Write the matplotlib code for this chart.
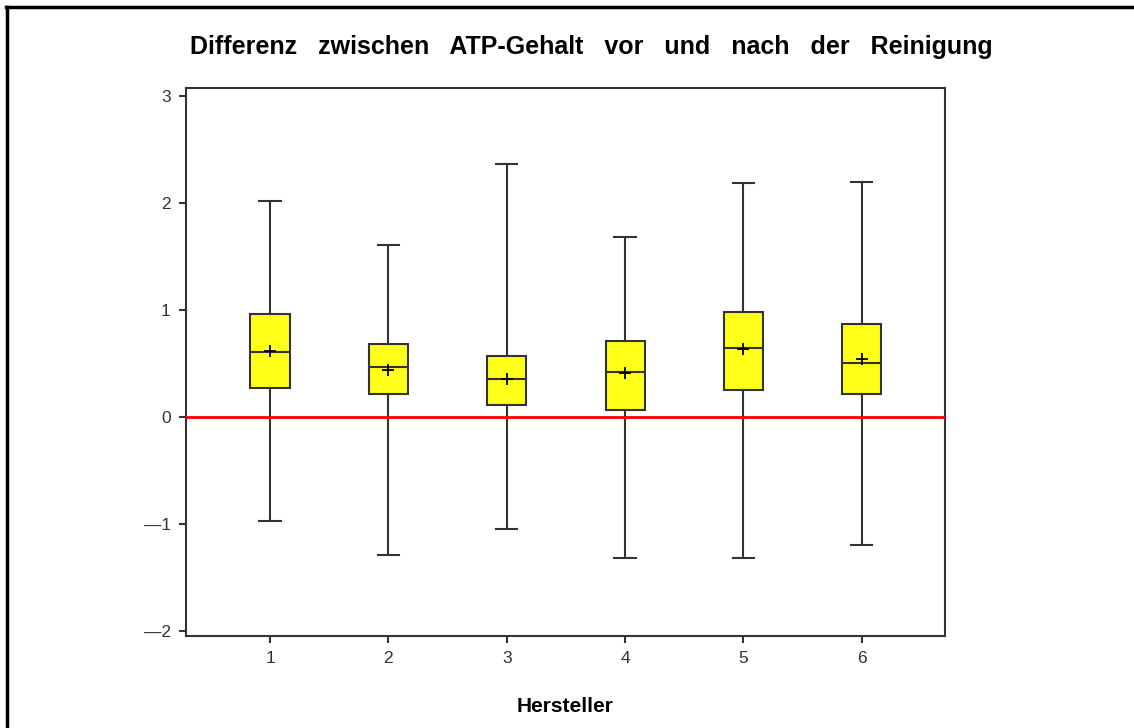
import matplotlib.pyplot as plt
from matplotlib.lines import Line2D

hersteller = [1, 2, 3, 4, 5, 6]
whisker_low = [-0.97, -1.29, -1.05, -1.32, -1.32, -1.20]
q1 = [0.27, 0.21, 0.11, 0.065, 0.25, 0.21]
median = [0.61, 0.47, 0.355, 0.42, 0.64, 0.50]
mean = [0.62, 0.44, 0.35, 0.41, 0.63, 0.54]
q3 = [0.96, 0.68, 0.57, 0.71, 0.98, 0.87]
whisker_high = [2.02, 1.61, 2.36, 1.68, 2.19, 2.20]

stats = []
for i in range(len(hersteller)):
    stats.append({
        "label": str(hersteller[i]),
        "whislo": whisker_low[i], "q1": q1[i], "med": median[i],
        "mean": mean[i], "q3": q3[i], "whishi": whisker_high[i],
        "fliers": [],
    })

plt.rcParams["font.family"] = ["Liberation Sans", "DejaVu Sans"]

fig = plt.figure(figsize=(11.34, 7.28), dpi=100)
ax = fig.add_axes([0.164, 0.1264, 0.669, 0.7527])

edge = "#333333"
ax.bxp(stats, positions=hersteller, widths=0.33, patch_artist=True,
       showmeans=True,
       boxprops=dict(facecolor="#ffff19", edgecolor=edge, linewidth=1.5),
       medianprops=dict(color=edge, linewidth=1.5),
       whiskerprops=dict(color=edge, linewidth=1.5),
       capprops=dict(color=edge, linewidth=1.5),
       capwidths=0.18,
       meanprops=dict(marker="+", markeredgecolor="black", markersize=8,
                      markeredgewidth=1.3))

ax.axhline(0, color="#ff0000", linewidth=2, zorder=3)

ax.set_xlim(0.29, 6.70)
ax.set_ylim(-2.05, 3.075)
ax.set_yticks([-2, -1, 0, 1, 2, 3])
ax.set_yticklabels(["\u2014" + "2", "\u2014" + "1", "0", "1", "2", "3"])
ax.set_xticks(hersteller)
ax.set_xticklabels([str(h) for h in hersteller])
ax.tick_params(direction="out", length=5, width=1.5, color=edge,
               labelsize=12.5, pad=6, labelcolor="#333333")
for s in ax.spines.values():
    s.set_color(edge)
    s.set_linewidth(1.5)

fig.text(0.521, 0.936, "Differenz   zwischen   ATP-Gehalt   vor   und   nach   der   Reinigung",
         ha="center", va="center", fontsize=18, fontweight="bold")
fig.text(0.498, 0.03, "Hersteller", ha="center", va="center",
         fontsize=15, fontweight="bold")

# outer frame (top and left)
fig.add_artist(Line2D([0.0053, 1.0], [0.9904, 0.9904], color="black", linewidth=2.5,
                      transform=fig.transFigure))
fig.add_artist(Line2D([0.0062, 0.0062], [0.0, 0.9904], color="black", linewidth=2.5,
                      transform=fig.transFigure))

fig.savefig("out.png", dpi=100)
